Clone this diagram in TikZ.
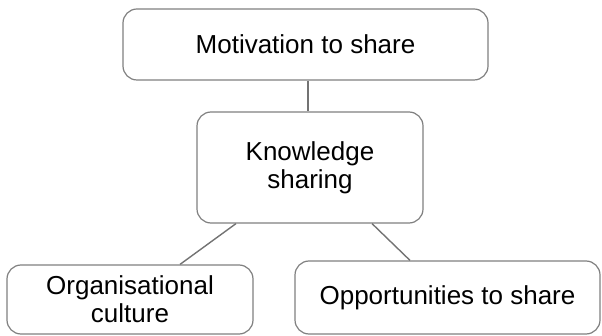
\documentclass[tikz,border=0pt]{standalone}
\usepackage{fontspec}
\setmainfont{Liberation Sans}
\usetikzlibrary{positioning}

\tikzset{
  topic/.style={draw=black!50, line width=1.2pt, rounded corners=14pt, fill=white,
    align=center, inner sep=4pt, font=\fontsize{26}{28}\selectfont},
  link/.style={draw=black!55, line width=1.4pt}
}

\begin{document}
\begin{tikzpicture}[x=1pt,y=-1pt]
    \useasboundingbox (0,0) rectangle (602,336);

    \node[topic, minimum width=365pt, minimum height=71pt]  (motiv) at (305.5,44.5) {Motivation to share};
    \node[topic, minimum width=226pt, minimum height=111pt] (know)  at (310,167.5)  {Knowledge\\sharing};
    \node[topic, minimum width=246pt, minimum height=69pt]  (org)   at (130,299.5)  {Organisational\\culture};
    \node[topic, minimum width=305pt, minimum height=73pt]  (opp)   at (447.5,297.5) {Opportunities to share};

    \draw[link] ([xshift=2.5pt]motiv.south) -- ([xshift=-2pt]know.north);
    \draw[link] ([xshift=-74pt]know.south) -- ([xshift=50pt]org.north);
    \draw[link] ([xshift=62pt]know.south) -- ([xshift=-37.5pt]opp.north);
\end{tikzpicture}
\end{document}
